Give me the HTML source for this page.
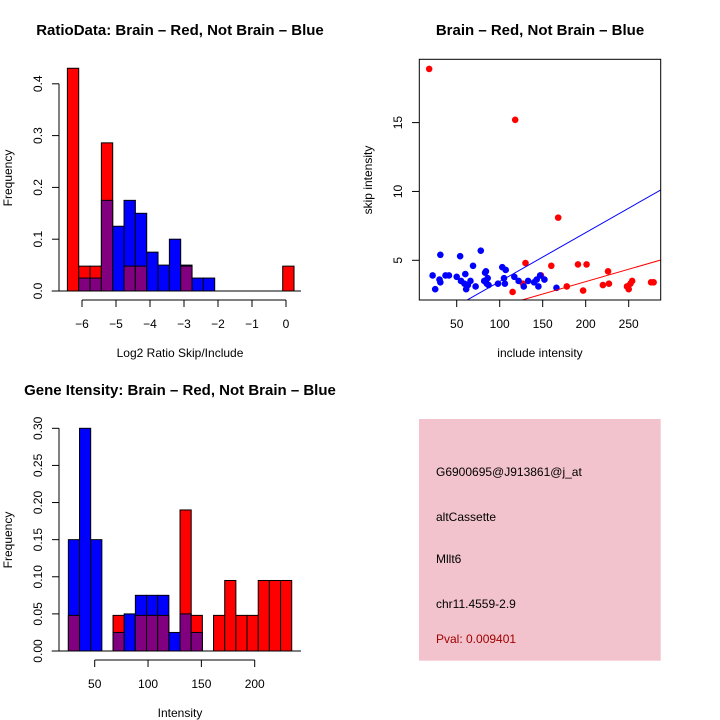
<!DOCTYPE html>
<html><head><meta charset="utf-8"><style>
body{margin:0;background:#fff;}
svg{display:block;font-family:"Liberation Sans",sans-serif;}
</style></head><body>
<svg id="c" width="720" height="720" viewBox="0 0 720 720"></svg>
<script>
// ---- Panel 1: ratio histogram ----
const ratioBreakStart = -6.43;
const ratioBinWidth = 0.3333;
const ratioRed = [0.43,0.048,0.048,0.286,0,0.048,0.048,0,0,0,0.048,0,0,0,0,0,0,0,0,0.048];
const ratioBlue = [0,0.025,0.025,0.175,0.125,0.175,0.15,0.075,0.05,0.1,0.05,0.025,0.025,0,0,0,0,0,0,0];
const ratioXTicks = [-6,-5,-4,-3,-2,-1,0];
const ratioYTicks = ["0.0","0.1","0.2","0.3","0.4"];
// ---- Panel 2: scatter ----
const redX = [18,118,168,130,160,191,201,226,115,127,148,178,197,220,227,248,250,252,254,276,279];
const redY = [18.9,15.2,8.1,4.8,4.6,4.7,4.7,4.2,2.7,3.3,3.9,3.1,2.8,3.2,3.3,3.1,2.9,3.3,3.5,3.4,3.4];
const blueX = [22,25,30,31,31,37,41,50,54,55,59,60,61,63,66,69,72,78,82,83,84,85,86,87,98,103,105,106,107,117,122,128,133,140,143,145,147,152,166];
const blueY = [3.9,2.9,3.6,3.4,5.4,3.9,3.9,3.8,5.3,3.5,3.3,4.0,2.9,3.2,3.5,4.6,3.1,5.7,3.5,4.1,4.2,3.3,3.7,3.2,3.3,4.5,3.7,3.3,4.3,3.8,3.5,3.1,3.5,3.4,3.6,3.1,3.9,3.6,3.0];
const blueFit = [-0.09,0.0355];
const redFit = [-0.15,0.018];
const scatXTicks = [50,100,150,200,250];
const scatYTicks = [5,10,15];
// ---- Panel 3: intensity histogram ----
const intBreakStart = 25.3;
const intBinWidth = 10.47;
const intRed = [0.048,0,0,0,0.048,0,0.048,0.048,0.048,0,0.19,0.048,0,0.048,0.095,0.048,0.048,0.095,0.095,0.095];
const intBlue = [0.15,0.30,0.15,0,0.025,0.05,0.075,0.075,0.075,0.025,0.05,0.025,0,0,0,0,0,0,0,0];
const intXTicks = [50,100,150,200];
const intYTicks = ["0.00","0.05","0.10","0.15","0.20","0.25","0.30"];
// ---- Panel 4: info ----
const infoLines = ["G6900695@J913861@j_at","altCassette","Mllt6","chr11.4559-2.9"];
const pvalText = "Pval: 0.009401";

const NS="http://www.w3.org/2000/svg";
const svg=document.getElementById('c');
function el(t,a,p){const e=document.createElementNS(NS,t);for(const k in a)e.setAttribute(k,a[k]);(p||svg).appendChild(e);return e;}
function txt(s,x,y,a,p){const e=el('text',Object.assign({x:x,y:y,'font-size':12,fill:'#000'},a||{}),p);e.textContent=s;return e;}

function hist(g,red,blue,start,w,sx,sy){
  for(let i=0;i<red.length;i++){
    const x0=sx(start+i*w),x1=sx(start+(i+1)*w);
    const r=red[i],b=blue[i],m=Math.min(r,b),M=Math.max(r,b);
    if(M<=0)continue;
    const topCol=r>=b?'#ff0000':'#0000ff';
    const bar=el('rect',{x:x0,y:sy(M),width:x1-x0,height:sy(0)-sy(M),fill:topCol,stroke:'#000','stroke-width':1},g);
    
    
    if(m>0){
      const ov=el('rect',{x:x0,y:sy(m),width:x1-x0,height:sy(0)-sy(m),fill:'#800080',stroke:'#000','stroke-width':1},g);
      
      
    }
  }
}

// Panel 1
(function(){
  const g=el('g',{});
  const sx=v=>286+(v-0)*34, sy=v=>291-v*518;
  txt("RatioData: Brain \u2013 Red, Not Brain \u2013 Blue",180,35,{'text-anchor':'middle','font-weight':'bold','font-size':15,},g);
  hist(g,ratioRed,ratioBlue,ratioBreakStart,ratioBinWidth,sx,sy);
  el('line',{x1:51.7,x2:301,y1:291,y2:291,stroke:'#000'},g);
  const ax=el('g',{},g);
  el('line',{x1:sx(-6),x2:sx(0),y1:300,y2:300,stroke:'#000'},ax);
  ratioXTicks.forEach(t=>{el('line',{x1:sx(t),x2:sx(t),y1:300,y2:307,stroke:'#000'},ax);txt(t<0?"\u2212"+(-t):String(t),sx(t),328,{'text-anchor':'middle'},ax);});
  const ay=el('g',{},g);
  el('line',{x1:59,x2:59,y1:sy(0),y2:sy(0.4),stroke:'#000'},ay);
  ratioYTicks.forEach(t=>{const y=sy(+t);el('line',{x1:52,x2:59,y1:y,y2:y,stroke:'#000'},ay);txt(t,42,y,{'text-anchor':'middle',transform:`rotate(-90 42 ${y})`},ay);});
  txt("Log2 Ratio Skip/Include",180,357,{'text-anchor':'middle',},g);
  txt("Frequency",12,178,{'text-anchor':'middle',transform:'rotate(-90 12 178)',},g);
})();

// Panel 2
(function(){
  const g=el('g',{});
  const X0=419.3,X1=660.7,Y0=59.3,Y1=300;
  const sx=v=>456.7+(v-50)*0.86, sy=v=>260.3-(v-5)*13.77;
  txt("Brain \u2013 Red, Not Brain \u2013 Blue",540,35,{'text-anchor':'middle','font-weight':'bold','font-size':15,},g);
  el('defs',{},g).innerHTML='<clipPath id="cp"><rect x="419.3" y="59.3" width="241.4" height="240.7"/></clipPath>';
  const cg=el('g',{'clip-path':'url(#cp)'},g);
  redX.forEach((x,i)=>{const c=el('circle',{cx:sx(x),cy:sy(redY[i]),r:3.3,fill:'#ff0000'},cg);});
  blueX.forEach((x,i)=>{const c=el('circle',{cx:sx(x),cy:sy(blueY[i]),r:3.3,fill:'#0000ff'},cg);});
  const bl=el('line',{x1:sx(0),y1:sy(blueFit[0]),x2:sx(300),y2:sy(blueFit[0]+blueFit[1]*300),stroke:'#0000ff'},cg);
  
  const rl=el('line',{x1:sx(0),y1:sy(redFit[0]),x2:sx(300),y2:sy(redFit[0]+redFit[1]*300),stroke:'#ff0000'},cg);
  
  el('rect',{x:X0,y:Y0,width:X1-X0,height:Y1-Y0,fill:'none',stroke:'#000',},g);
  const ax=el('g',{},g);
  scatXTicks.forEach(t=>{el('line',{x1:sx(t),x2:sx(t),y1:300,y2:307,stroke:'#000'},ax);txt(String(t),sx(t),328,{'text-anchor':'middle'},ax);});
  const ay=el('g',{},g);
  scatYTicks.forEach(t=>{const y=sy(t);el('line',{x1:412,x2:419,y1:y,y2:y,stroke:'#000'},ay);txt(String(t),402,y,{'text-anchor':'middle',transform:`rotate(-90 402 ${y})`},ay);});
  txt("include intensity",540,357,{'text-anchor':'middle',},g);
  txt("skip intensity",372,180,{'text-anchor':'middle',transform:'rotate(-90 372 180)',},g);
})();

// Panel 3
(function(){
  const g=el('g',{});
  const sx=v=>94.7+(v-50)*1.0667, sy=v=>651-v*742.3;
  txt("Gene Itensity: Brain \u2013 Red, Not Brain \u2013 Blue",180,395,{'text-anchor':'middle','font-weight':'bold','font-size':15,},g);
  hist(g,intRed,intBlue,intBreakStart,intBinWidth,sx,sy);
  el('line',{x1:51.7,x2:301,y1:651,y2:651,stroke:'#000'},g);
  const ax=el('g',{},g);
  el('line',{x1:sx(50),x2:sx(200),y1:660,y2:660,stroke:'#000'},ax);
  intXTicks.forEach(t=>{el('line',{x1:sx(t),x2:sx(t),y1:660,y2:667,stroke:'#000'},ax);txt(String(t),sx(t),688,{'text-anchor':'middle'},ax);});
  const ay=el('g',{},g);
  el('line',{x1:59,x2:59,y1:sy(0),y2:sy(0.3),stroke:'#000'},ay);
  intYTicks.forEach(t=>{const y=sy(+t);el('line',{x1:52,x2:59,y1:y,y2:y,stroke:'#000'},ay);txt(t,42,y,{'text-anchor':'middle',transform:`rotate(-90 42 ${y})`},ay);});
  txt("Intensity",180,717,{'text-anchor':'middle',},g);
  txt("Frequency",12,540,{'text-anchor':'middle',transform:'rotate(-90 12 540)',},g);
})();

// Panel 4
(function(){
  const g=el('g',{});
  el('rect',{x:419,y:419,width:241.7,height:241.7,fill:'#f2c3cd'},g);
  const ys=[476,521,563,608];
  infoLines.forEach((s,i)=>{const t=txt(s,436,ys[i],{},g);});
  txt(pvalText,436,643,{fill:'#a00000',},g);
})();
</script>
</body></html>
